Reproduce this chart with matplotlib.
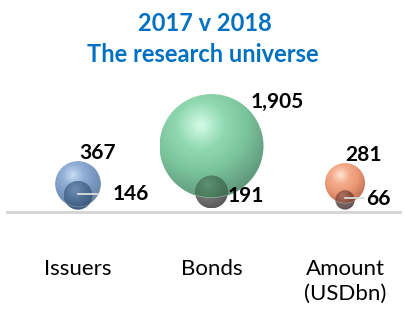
import numpy as np
import matplotlib
matplotlib.use("Agg")
import matplotlib.pyplot as plt
from matplotlib.patches import Circle
from matplotlib.colors import LinearSegmentedColormap

# data
categories = ["Issuers", "Bonds", "Amount\n(USDbn)"]
values_2017 = [367, 1905, 281]   # big bubbles
values_2018 = [146, 191, 66]     # small bubbles
y_2017 = [0.21, 0.494, 0.217]    # bubble y values
y_2018 = [0.125, 0.150, 0.090]
labels_2017 = ["367", "1,905", "281"]
labels_2018 = ["146", "191", "66"]

# styles
big_colors = [["#C8DCF4", "#8FADD6", "#7896C2", "#62809F"],
              ["#D4FCE8", "#8CD8AE", "#76C298", "#5A9276"],
              ["#FFE2D2", "#F4A886", "#EA9470", "#BE6E50"]]
inside_colors = [["#6E8CB0", "#4E6E94", "#3A5578"],
                 ["#5E9070", "#4A7A5C", "#3E6650"],
                 ["#B07060", "#8A5040", "#70402E"]]
outside_colors = [["#6E8CB0", "#4E6E94", "#3A5578"],
                  ["#A0A0A0", "#767676", "#585858"],
                  ["#9A8A86", "#7A6A66", "#605050"]]
big_off = [(20, 31), (66, 44), (18, 28)]     # label offsets, pixels
small_off = [(53, 1), (34, -4), (33, 1)]

scale = 0.00892   # radius per sqrt(value), data units

fig = plt.figure(figsize=(4.05, 3.11), dpi=100)
ax = fig.add_axes([0, 0, 1, 1])
ax.set_axis_off()


def sphere(x, y, r, colors, alpha, z, inside=None, stops=None):
    g = np.linspace(-1, 1, 200)
    X, Y = np.meshgrid(g, g)
    d = np.sqrt((X + 0.22) ** 2 + (Y - 0.4) ** 2) / 1.45
    if inside is not None:
        # keep only the part that lies inside the other bubble
        bx, by, br = inside
        gx, gy = x + X * r, y + Y * r
        d = np.ma.masked_where((gx - bx) ** 2 + (gy - by) ** 2 > br ** 2, d)
    if stops is None:
        stops = np.linspace(0, 1, len(colors))
    cmap = LinearSegmentedColormap.from_list("s", list(zip(stops, colors)))
    cmap.set_bad((1, 1, 1, 0))
    im = ax.imshow(d, extent=(x - r, x + r, y - r, y + r), origin="lower",
                   cmap=cmap, vmin=0, vmax=1, alpha=alpha, zorder=z,
                   interpolation="bilinear")
    c = Circle((x, y), r, facecolor="none", edgecolor="none")
    ax.add_patch(c)
    im.set_clip_path(c)


for i in range(len(categories)):
    r_small = scale * np.sqrt(values_2018[i])
    r_big = scale * np.sqrt(values_2017[i])
    sphere(i, y_2018[i], r_small, outside_colors[i], 1.0, 2)
    sphere(i, y_2017[i], r_big, big_colors[i], 0.97, 3,
           stops=[0, 0.32, 0.62, 1])
    sphere(i, y_2018[i], r_small, inside_colors[i], 0.95, 4,
           inside=(i, y_2017[i], r_big))
    # leader line
    if i != 1:
        ax.plot([i, i + 0.14], [y_2018[i] + 0.012, y_2018[i] + 0.012],
                color="#DCDCDC", lw=1.3, zorder=5)
    ax.annotate(labels_2017[i], (i, y_2017[i]), xytext=big_off[i],
                textcoords="offset pixels", ha="center", va="center",
                fontsize=15, fontweight="bold", family="Lato", color="black",
                zorder=6)
    ax.annotate(labels_2018[i], (i, y_2018[i]), xytext=small_off[i],
                textcoords="offset pixels", ha="center", va="center",
                fontsize=15, fontweight="bold", family="Lato", color="black",
                zorder=6)
    ax.text(i, -0.35, categories[i], ha="center", va="top", fontsize=16,
            family="Lato", color="black", linespacing=1.3)

ax.axhline(0, xmin=0.017, xmax=0.988, color="#D4D4D4", lw=2, zorder=1)

ax.set_xlim(-0.584, 2.449)
ax.set_ylim(-0.742, 1.588)
ax.set_aspect("auto")

fig.text(0.506, 0.923, "2017 v 2018", ha="center", va="center",
         fontsize=17, fontweight="bold", family="Lato", color="#0070C0")
fig.text(0.501, 0.826, "The research universe", ha="center", va="center",
         fontsize=17, fontweight="bold", family="Lato", color="#0070C0")

fig.savefig("out.png", dpi=100)
